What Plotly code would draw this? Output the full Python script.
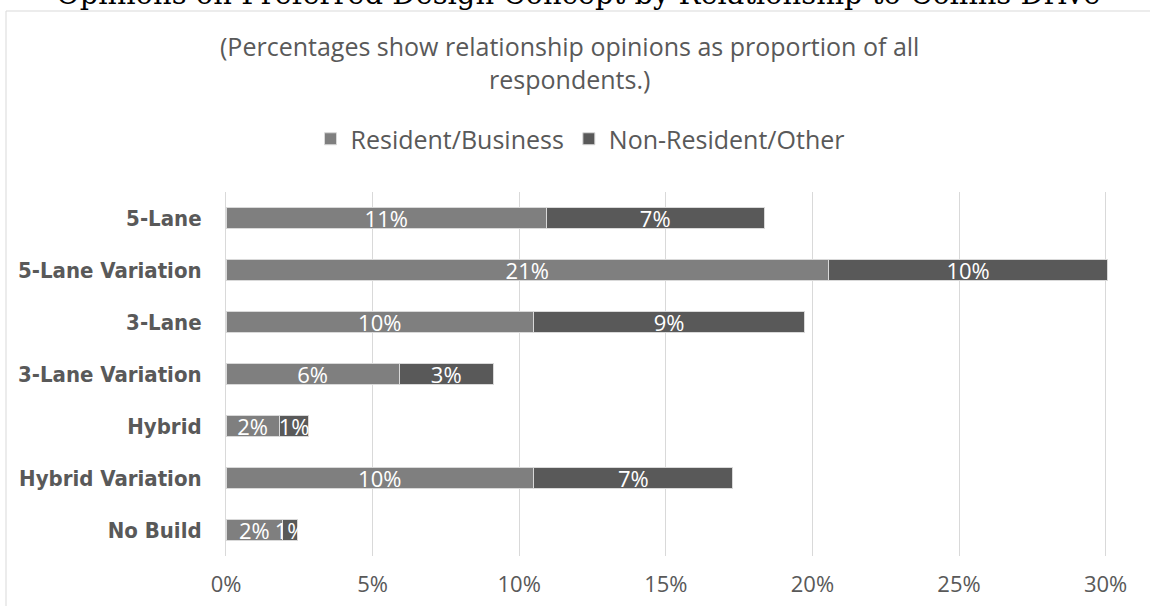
import plotly.graph_objects as go

categories = ["5-Lane", "5-Lane Variation", "3-Lane", "3-Lane Variation",
              "Hybrid", "Hybrid Variation", "No Build"]
resident_business = [0.1093, 0.2055, 0.1049, 0.0591, 0.0181, 0.1049, 0.0193]
non_resident_other = [0.0742, 0.0952, 0.0924, 0.0320, 0.0102, 0.0680, 0.0051]
series_names = ["Resident/Business", "Non-Resident/Other"]
series_colors = ["#7f7f7f", "#595959"]

title_text = "Opinions on Preferred Design Concept by Relationship to Collins Drive"
subtitle_text = "(Percentages show relationship opinions as proportion of all<br>respondents.)"

W, H = 1150, 606
L, R, T, B = 226, 40, 192, 50
pw, ph = W - L - R, H - T - B

def px_x(x):
    return (x - L) / pw

def px_y(y):
    return (H - B - y) / ph

fig = go.Figure()
for name, vals, col in zip(series_names, [resident_business, non_resident_other], series_colors):
    fig.add_trace(go.Bar(
        y=categories, x=vals, name=name, orientation="h",
        marker=dict(color=col, line=dict(color="#d9d9d9", width=1)),
        width=0.4,
        texttemplate="%{x:.0%}", textposition="inside", insidetextanchor="middle",
        constraintext="none", textangle=0,
        textfont=dict(family="Open Sans", size=22, color="white"),
        hoverinfo="skip",
    ))

fig.update_layout(
    width=W, height=H,
    margin=dict(l=L, r=R, t=T, b=B, pad=0, autoexpand=False),
    barmode="stack",
    paper_bgcolor="white", plot_bgcolor="white",
    showlegend=True,
    legend=dict(orientation="h", x=px_x(580), xanchor="center", y=px_y(139), yanchor="middle",
                font=dict(family="Open Sans", size=25, color="#595959"),
                traceorder="normal", bgcolor="rgba(0,0,0,0)"),
    xaxis=dict(range=[0, 0.3015], dtick=0.05, tick0=0, tickformat=".0%",
               showgrid=True, gridcolor="#d9d9d9", gridwidth=1,
               zeroline=False, showline=False, ticks="", automargin=False,
               ticklabelstandoff=13,
               tickfont=dict(family="Open Sans", size=22, color="#595959"),
               fixedrange=True),
    yaxis=dict(categoryorder="array", categoryarray=categories, autorange="reversed",
               showline=True, linecolor="#d9d9d9", linewidth=1, ticks="",
               showgrid=False, zeroline=False, ticklabelstandoff=19, automargin=False,
               tickfont=dict(family="DejaVu Sans Condensed", size=22, color="#595959", weight="bold"),
               fixedrange=True),
    annotations=[
        dict(text=title_text, xref="paper", yref="paper", x=px_x(578), y=px_y(-6),
             xanchor="center", yanchor="middle", showarrow=False,
             font=dict(family="DejaVu Serif", size=29, color="black")),
        dict(text=subtitle_text, xref="paper", yref="paper", x=px_x(569), y=px_y(63),
             xanchor="center", yanchor="middle", showarrow=False, align="center",
             font=dict(family="Open Sans", size=25, color="#595959")),
    ],
    shapes=[
        dict(type="rect", xref="paper", yref="paper",
             x0=px_x(6), x1=px_x(1200), y0=px_y(650), y1=px_y(11),
             line=dict(color="#d9d9d9", width=1), fillcolor="rgba(0,0,0,0)", layer="below"),
    ],
)

fig.write_html("out.html")
